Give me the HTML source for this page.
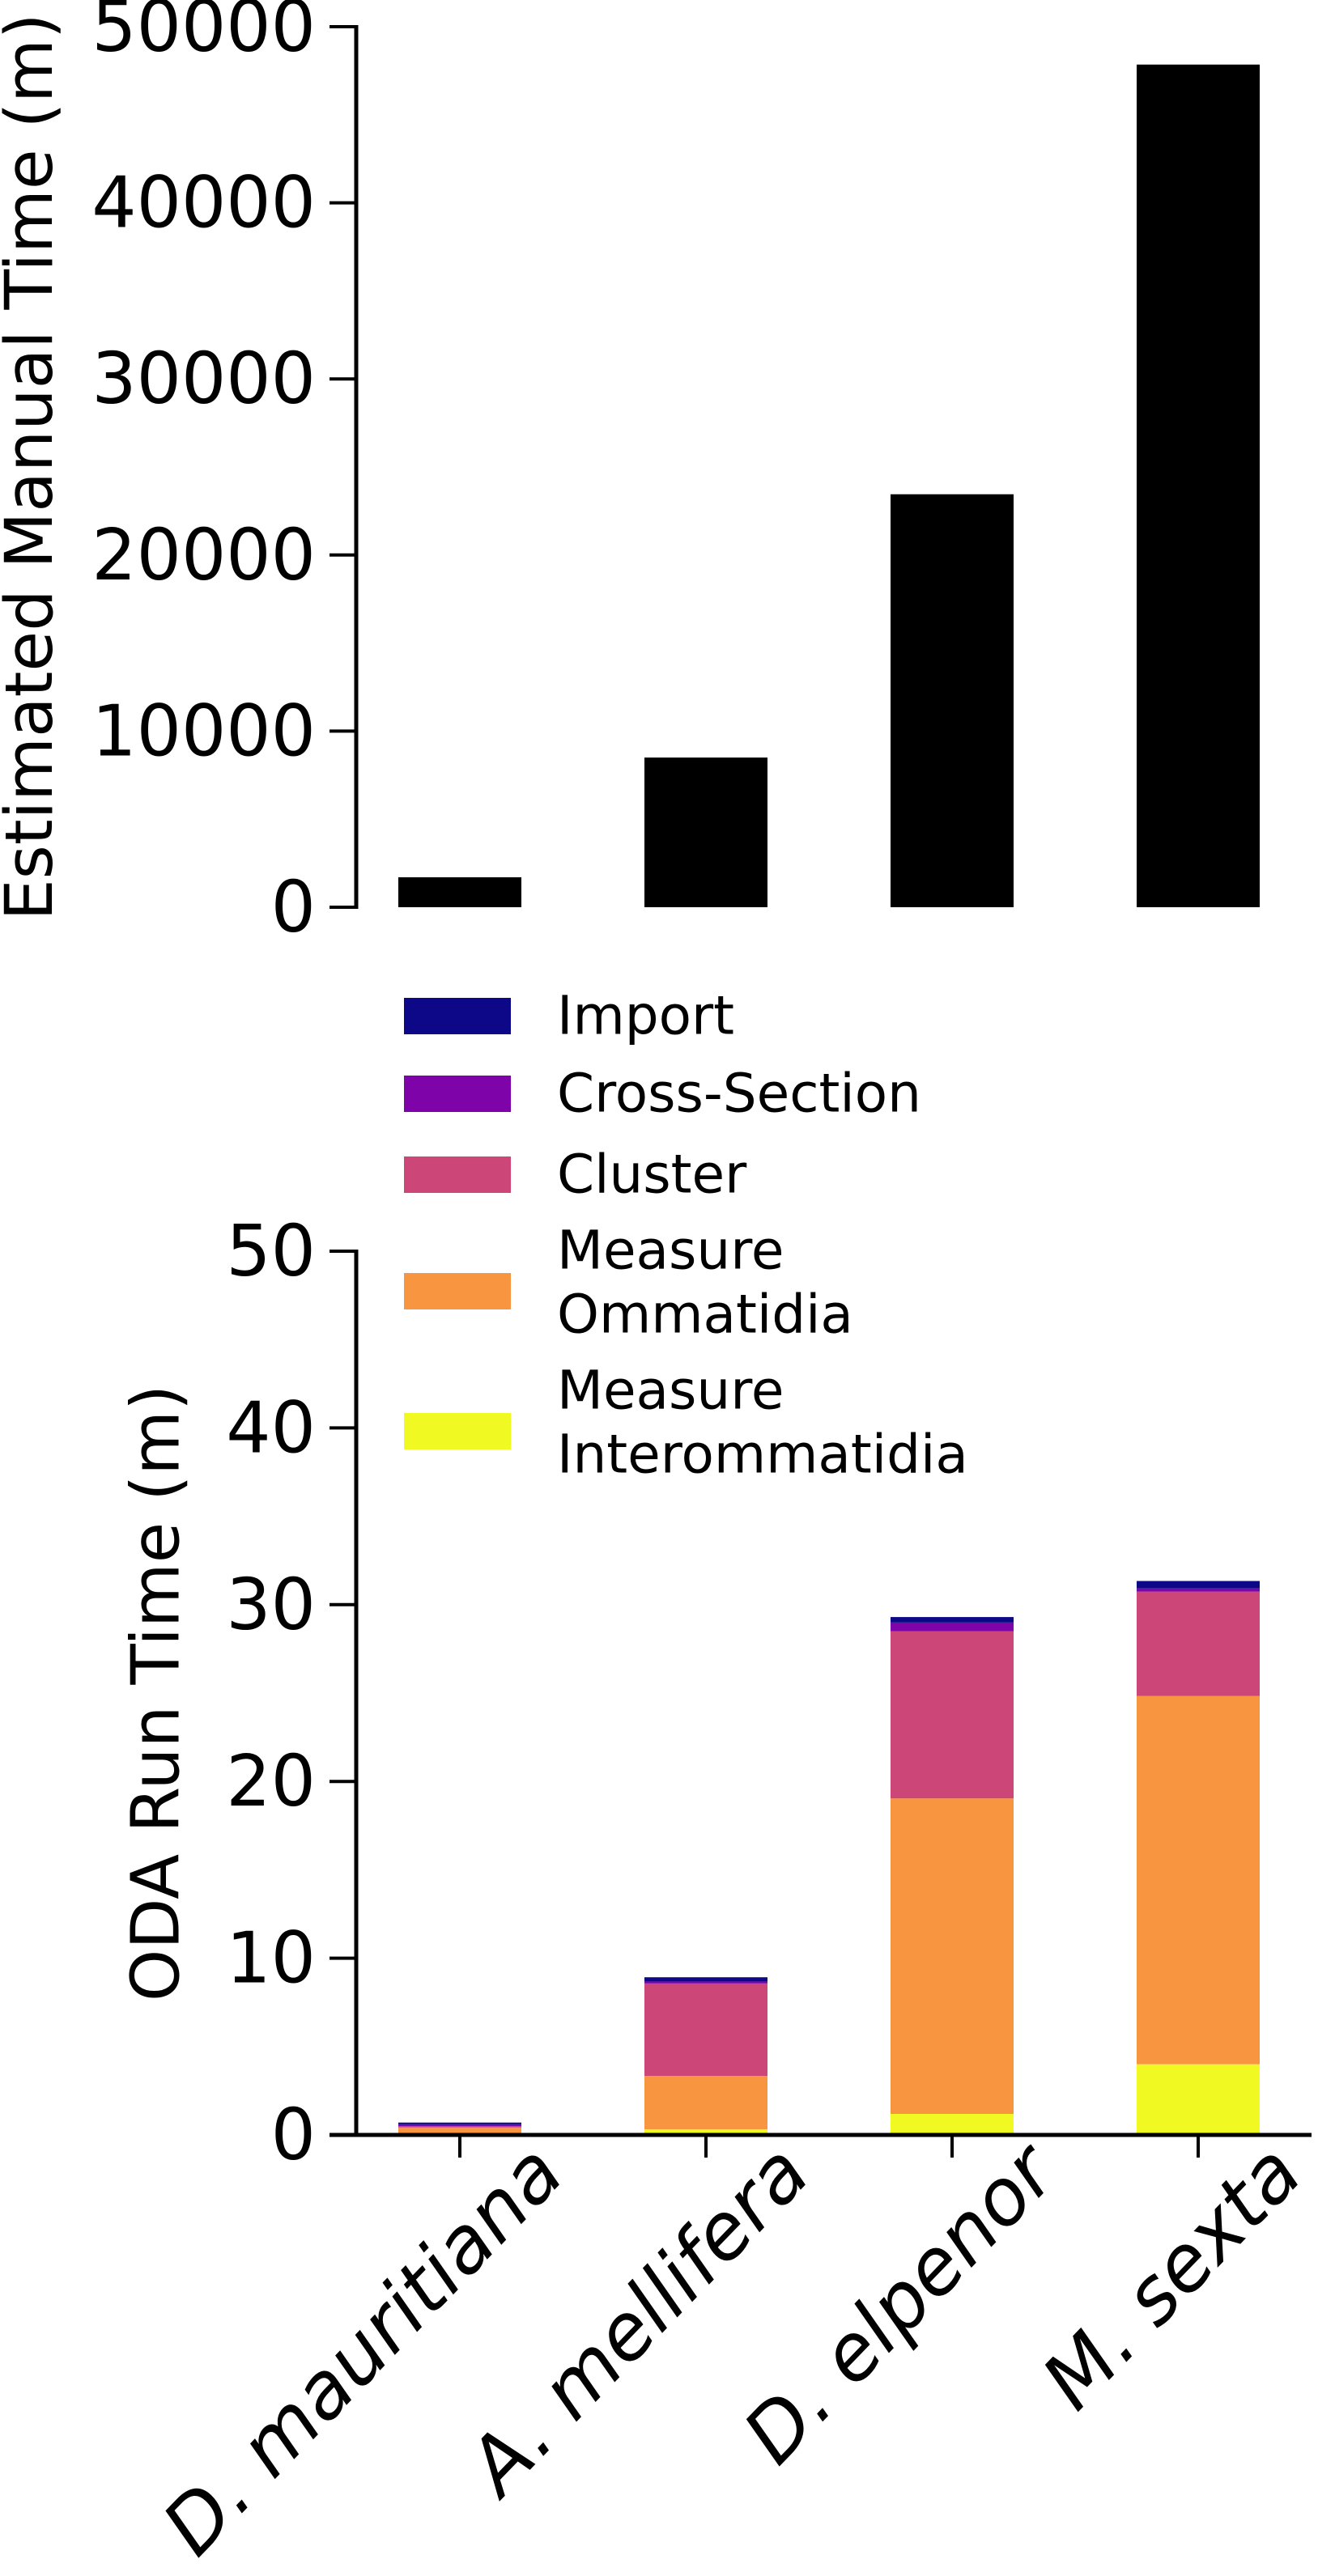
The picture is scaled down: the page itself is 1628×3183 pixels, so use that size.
<!DOCTYPE html>
<html><head><meta charset="utf-8"><style>
html,body{margin:0;padding:0;background:#fff;}
svg{display:block;font-family:"DejaVu Sans","Liberation Sans",sans-serif;}
</style></head><body>
<svg id="fig" width="1628" height="3183" viewBox="0 0 1628 3183" xmlns="http://www.w3.org/2000/svg">
<g id="topchart"></g>
<g id="legendg"></g>
<g id="botchart"></g>
</svg>
<script>
const species = ["D. mauritiana", "A. mellifera", "D. elpenor", "M. sexta"];
const manualTimes = [1700, 8500, 23450, 47850];
const manualTicks = [0, 10000, 20000, 30000, 40000, 50000];
const stageNames = ["Measure Interommatidia", "Measure Ommatidia", "Cluster", "Cross-Section", "Import"];
const interommatidia = [0.1, 0.32, 1.19, 4.0];
const ommatidia = [0.32, 3.02, 17.85, 20.84];
const cluster = [0.07, 5.23, 9.46, 5.9];
const crossSection = [0.11, 0.11, 0.49, 0.18];
const importTime = [0.1, 0.24, 0.31, 0.42];
const odaTicks = [0, 10, 20, 30, 40, 50];
const stageColors = ["#f0f921", "#f89540", "#cc4778", "#7e03a8", "#0d0887"];

const NS = "http://www.w3.org/2000/svg";
function mk(parent, tag, attrs, text) {
  const e = document.createElementNS(NS, tag);
  for (const k in attrs) e.setAttribute(k, attrs[k]);
  if (text !== undefined) e.textContent = text;
  parent.appendChild(e);
  return e;
}
const axisX = 440, barW = 152;
function xPos(i) { return 568 + i * 304; }
function yTop(v) { return 1121 - (v / 50000) * 1088; }
function yBot(v) { return 2638 - (v / 50) * 1092; }

// top chart
const topG = document.getElementById('topchart');
let ln = mk(topG, 'line', {x1: axisX, y1: yTop(50000) - 2, x2: axisX, y2: yTop(0) + 2, stroke: '#000', 'stroke-width': 5});


manualTicks.forEach(t => {
  const tk = mk(topG, 'line', {x1: 407, y1: yTop(t), x2: axisX, y2: yTop(t), stroke: '#000', 'stroke-width': 4});
  
  
  const tl = mk(topG, 'text', {x: 390, y: yTop(t), 'text-anchor': 'end', 'dominant-baseline': 'central', 'font-size': 87}, String(t));
  
  
});
manualTimes.forEach((v, i) => {
  const r = mk(topG, 'rect', {x: xPos(i) - barW / 2, y: yTop(v), width: barW, height: yTop(0) - yTop(v), fill: '#000'});
  
  
});
let ttl = mk(topG, 'text', {transform: 'translate(37,577) rotate(-90)', 'text-anchor': 'middle', 'dominant-baseline': 'central', 'font-size': 81}, 'Estimated Manual Time (m)');



// legend
const legG = document.getElementById('legendg');
const legItems = [
  {c: "#0d0887", lines: ["Import"], y: 1255},
  {c: "#7e03a8", lines: ["Cross-Section"], y: 1351},
  {c: "#cc4778", lines: ["Cluster"], y: 1451},
  {c: "#f89540", lines: ["Measure", "Ommatidia"], y: 1595},
  {c: "#f0f921", lines: ["Measure", "Interommatidia"], y: 1768}
];
legItems.forEach(it => {
  const g = mk(legG, 'g', {});
  
  
  mk(g, 'rect', {x: 499, y: it.y - 22, width: 132, height: 45, fill: it.c});
  if (it.lines.length === 1) {
    mk(g, 'text', {x: 688, y: it.y, 'dominant-baseline': 'central', 'font-size': 66}, it.lines[0]);
  } else {
    mk(g, 'text', {x: 688, y: it.y - 50, 'dominant-baseline': 'central', 'font-size': 66}, it.lines[0]);
    mk(g, 'text', {x: 688, y: it.y + 29, 'dominant-baseline': 'central', 'font-size': 66}, it.lines[1]);
  }
});

// bottom chart
const botG = document.getElementById('botchart');
const series = [interommatidia, ommatidia, cluster, crossSection, importTime];
species.forEach((s, i) => {
  let base = 0;
  series.forEach((ser, k) => {
    const v = ser[i];
    const r = mk(botG, 'rect', {x: xPos(i) - barW / 2, y: yBot(base + v), width: barW, height: yBot(base) - yBot(base + v), fill: stageColors[k]});
    
    
    base += v;
  });
  const tk = mk(botG, 'line', {x1: xPos(i), y1: 2638, x2: xPos(i), y2: 2666, stroke: '#000', 'stroke-width': 4});
  
  
  const xl = mk(botG, 'text', {transform: 'translate(' + (xPos(i) + 132) + ',2690) rotate(-46)', 'text-anchor': 'end', 'font-size': 96, 'font-style': 'italic'}, s);
  
  
});
ln = mk(botG, 'line', {x1: axisX, y1: yBot(50) - 2, x2: axisX, y2: 2640, stroke: '#000', 'stroke-width': 5});


ln = mk(botG, 'line', {x1: 407, y1: 2638, x2: 1620, y2: 2638, stroke: '#000', 'stroke-width': 5});


odaTicks.forEach(t => {
  const tk = mk(botG, 'line', {x1: 407, y1: yBot(t), x2: axisX, y2: yBot(t), stroke: '#000', 'stroke-width': 4});
  
  
  const tl = mk(botG, 'text', {x: 390, y: yBot(t), 'text-anchor': 'end', 'dominant-baseline': 'central', 'font-size': 87}, String(t));
  
  
});
ttl = mk(botG, 'text', {transform: 'translate(193,2092) rotate(-90)', 'text-anchor': 'middle', 'dominant-baseline': 'central', 'font-size': 82}, 'ODA Run Time (m)');


</script>
</body></html>
